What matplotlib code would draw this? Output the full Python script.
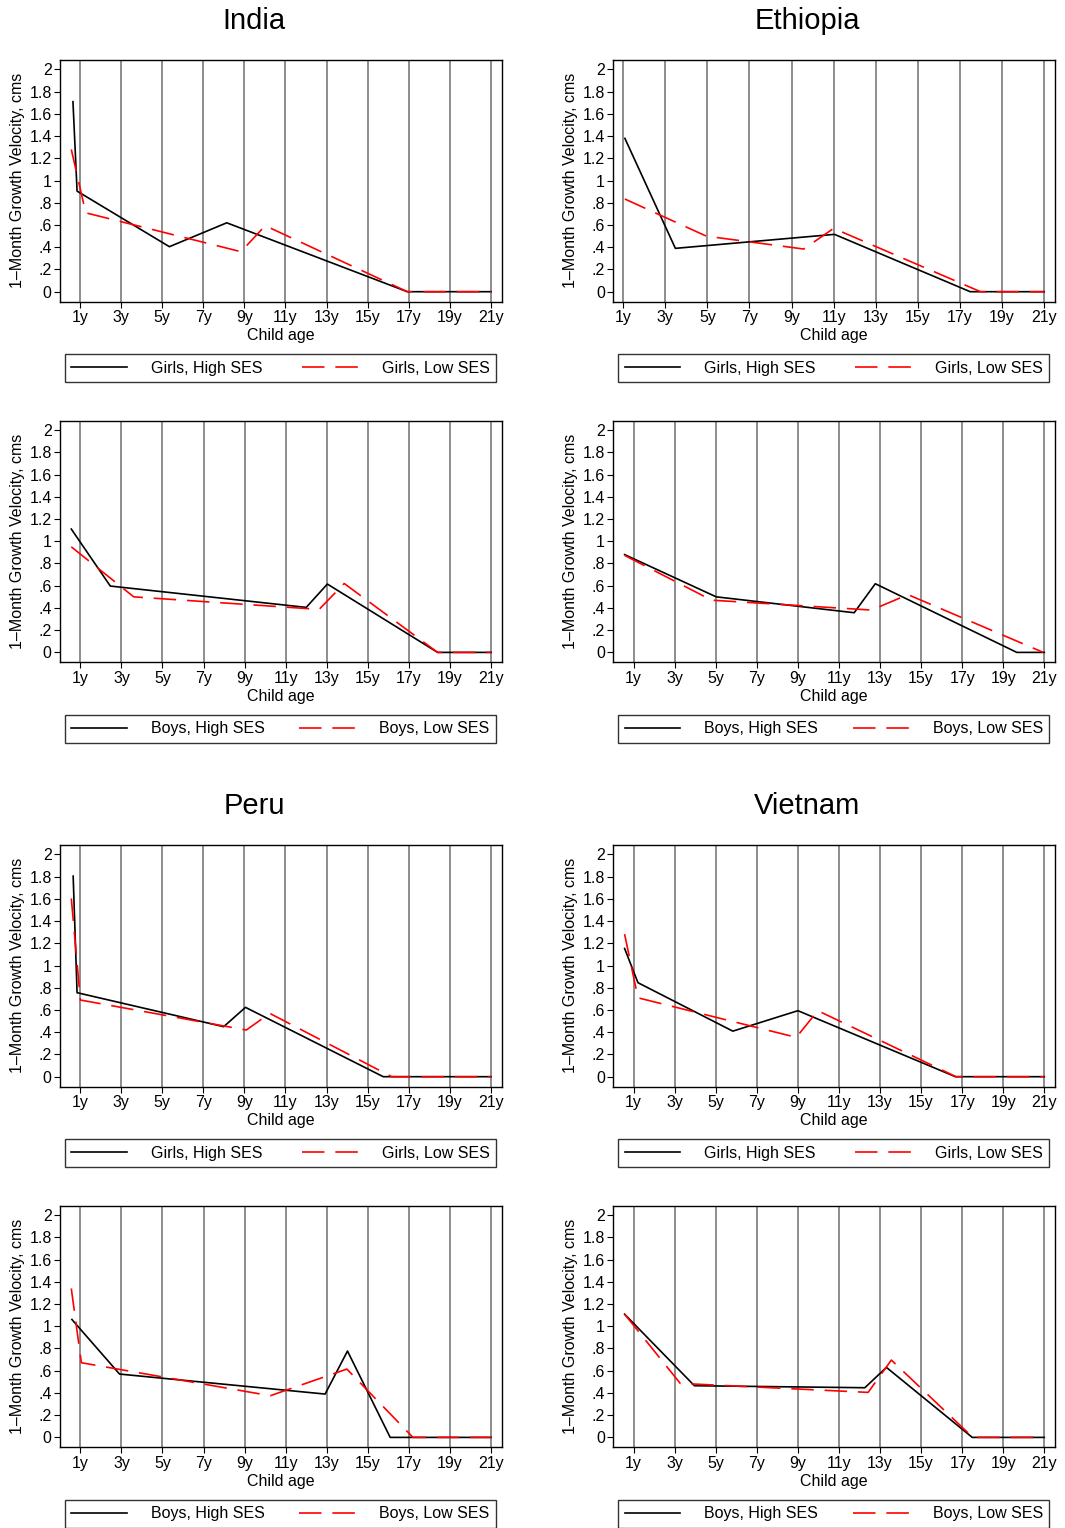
import matplotlib
matplotlib.use("Agg")
import matplotlib.pyplot as plt

plt.rcParams['font.family'] = ['Liberation Sans', 'DejaVu Sans']

# ---- data (age in years, 1-month growth velocity in cm) ----
india_girls_high_x = [0.67, 0.87, 5.36, 8.15, 16.93, 21.0]
india_girls_high_y = [1.71, 0.905, 0.405, 0.62, 0.0, 0.0]
india_girls_low_x = [0.59, 1.29, 8.84, 10.02, 16.93, 21.0]
india_girls_low_y = [1.28, 0.71, 0.36, 0.594, 0.0, 0.0]

ethiopia_girls_high_x = [1.08, 3.48, 11.04, 17.49, 21.0]
ethiopia_girls_high_y = [1.38, 0.39, 0.516, 0.0, 0.0]
ethiopia_girls_low_x = [1.08, 4.95, 9.58, 11.0, 17.98, 21.0]
ethiopia_girls_low_y = [0.834, 0.50, 0.384, 0.57, 0.0, 0.0]

india_boys_high_x = [0.56, 2.46, 12.0, 13.03, 18.4, 21.0]
india_boys_high_y = [1.11, 0.597, 0.405, 0.615, 0.0, 0.0]
india_boys_low_x = [0.56, 3.60, 12.63, 13.85, 18.4, 21.0]
india_boys_low_y = [0.95, 0.50, 0.387, 0.62, 0.0, 0.0]

ethiopia_boys_high_x = [0.56, 5.02, 11.74, 12.77, 19.66, 21.0]
ethiopia_boys_high_y = [0.88, 0.50, 0.357, 0.618, 0.0, 0.0]
ethiopia_boys_low_x = [0.56, 4.80, 12.58, 14.36, 20.95]
ethiopia_boys_low_y = [0.873, 0.47, 0.381, 0.52, 0.0]

peru_girls_high_x = [0.68, 0.87, 8.0, 9.06, 15.76, 21.0]
peru_girls_high_y = [1.805, 0.756, 0.45, 0.624, 0.0, 0.0]
peru_girls_low_x = [0.59, 1.03, 9.10, 10.24, 16.17, 21.0]
peru_girls_low_y = [1.604, 0.69, 0.42, 0.57, 0.0, 0.0]

vietnam_girls_high_x = [0.56, 1.21, 5.83, 9.0, 16.67, 21.0]
vietnam_girls_high_y = [1.154, 0.846, 0.41, 0.594, 0.0, 0.0]
vietnam_girls_low_x = [0.56, 1.21, 8.92, 9.97, 16.70, 21.0]
vietnam_girls_low_y = [1.283, 0.71, 0.354, 0.594, 0.0, 0.0]

peru_boys_high_x = [0.59, 2.91, 12.92, 14.01, 16.09, 21.0]
peru_boys_high_y = [1.061, 0.57, 0.39, 0.777, 0.0, 0.0]
peru_boys_low_x = [0.56, 1.05, 10.25, 13.98, 17.2, 21.0]
peru_boys_low_y = [1.34, 0.672, 0.375, 0.615, 0.0, 0.0]

vietnam_boys_high_x = [0.56, 3.96, 12.26, 13.31, 17.49, 21.0]
vietnam_boys_high_y = [1.109, 0.465, 0.447, 0.63, 0.0, 0.0]
vietnam_boys_low_x = [0.56, 3.27, 12.42, 13.55, 17.52, 21.0]
vietnam_boys_low_y = [1.109, 0.486, 0.405, 0.696, 0.0, 0.0]

countries_top = ["India", "Ethiopia"]
countries_bottom = ["Peru", "Vietnam"]
x_ticks = list(range(1, 22, 2))
x_tick_labels = [f"{t}y" for t in x_ticks]
y_ticks = [0, 0.2, 0.4, 0.6, 0.8, 1.0, 1.2, 1.4, 1.6, 1.8, 2.0]
y_tick_labels = ["0", ".2", ".4", ".6", ".8", "1", "1.2", "1.4", "1.6", "1.8", "2"]

panels = [
    # (row, col, high_x, high_y, low_x, low_y, sex)
    (0, 0, india_girls_high_x, india_girls_high_y, india_girls_low_x, india_girls_low_y, "Girls"),
    (0, 1, ethiopia_girls_high_x, ethiopia_girls_high_y, ethiopia_girls_low_x, ethiopia_girls_low_y, "Girls"),
    (1, 0, india_boys_high_x, india_boys_high_y, india_boys_low_x, india_boys_low_y, "Boys"),
    (1, 1, ethiopia_boys_high_x, ethiopia_boys_high_y, ethiopia_boys_low_x, ethiopia_boys_low_y, "Boys"),
    (2, 0, peru_girls_high_x, peru_girls_high_y, peru_girls_low_x, peru_girls_low_y, "Girls"),
    (2, 1, vietnam_girls_high_x, vietnam_girls_high_y, vietnam_girls_low_x, vietnam_girls_low_y, "Girls"),
    (3, 0, peru_boys_high_x, peru_boys_high_y, peru_boys_low_x, peru_boys_low_y, "Boys"),
    (3, 1, vietnam_boys_high_x, vietnam_boys_high_y, vietnam_boys_low_x, vietnam_boys_low_y, "Boys"),
]

W, H = 1065, 1528
fig = plt.figure(figsize=(W / 100, H / 100), dpi=100)

col_left = [60, 613.3]
row_top = [60, 420.7, 845, 1205.7]
ax_w, ax_h = 441.7, 241.7

FS = 11.5

for row, col, hx, hy, lx, ly, sex in panels:
    left = col_left[col]
    top = row_top[row]
    ax = fig.add_axes([left / W, 1 - (top + ax_h) / H, ax_w / W, ax_h / H])
    ax.plot(hx, hy, color="black", lw=1.2, label=f"{sex}, High SES", zorder=3)
    ax.plot(lx, ly, color="red", lw=1.2, dashes=(13.5, 6.5), label=f"{sex}, Low SES", zorder=4)
    xmin = min(min(hx), min(lx)) - 0.55
    ax.set_xlim(xmin, 21.52)
    ax.set_ylim(-0.09, 2.085)
    ax.set_xticks(x_ticks)
    ax.set_xticklabels(x_tick_labels, fontsize=FS)
    ax.set_yticks(y_ticks)
    ax.set_yticklabels(y_tick_labels, fontsize=FS)
    ax.tick_params(axis="both", direction="out", length=4, width=0.8, pad=2)
    ax.grid(axis="x", color="#6f6f6f", lw=1.1, zorder=1)
    ax.set_axisbelow(True)
    for s in ax.spines.values():
        s.set_linewidth(1.0)
        s.set_color("black")
    ax.set_xlabel("Child age", fontsize=FS, labelpad=2)
    ax.set_ylabel("1\u2013Month Growth Velocity, cms", fontsize=FS, labelpad=3)
    leg = ax.legend(loc="lower left", bbox_to_anchor=(0.011, -0.332, 0.976, 0.12),
                    mode="expand", ncol=2, fontsize=FS, handlelength=3.5,
                    handletextpad=1.5, borderpad=0.4, borderaxespad=0,
                    fancybox=False, frameon=True, edgecolor="black")
    leg.get_frame().set_linewidth(1.0)

for i, name in enumerate(countries_top):
    fig.text((col_left[i] + 194) / W, 1 - 21 / H, name, fontsize=21, ha="center", va="center")
for i, name in enumerate(countries_bottom):
    fig.text((col_left[i] + 194) / W, 1 - 806 / H, name, fontsize=21, ha="center", va="center")

fig.savefig("out.png", dpi=100)
